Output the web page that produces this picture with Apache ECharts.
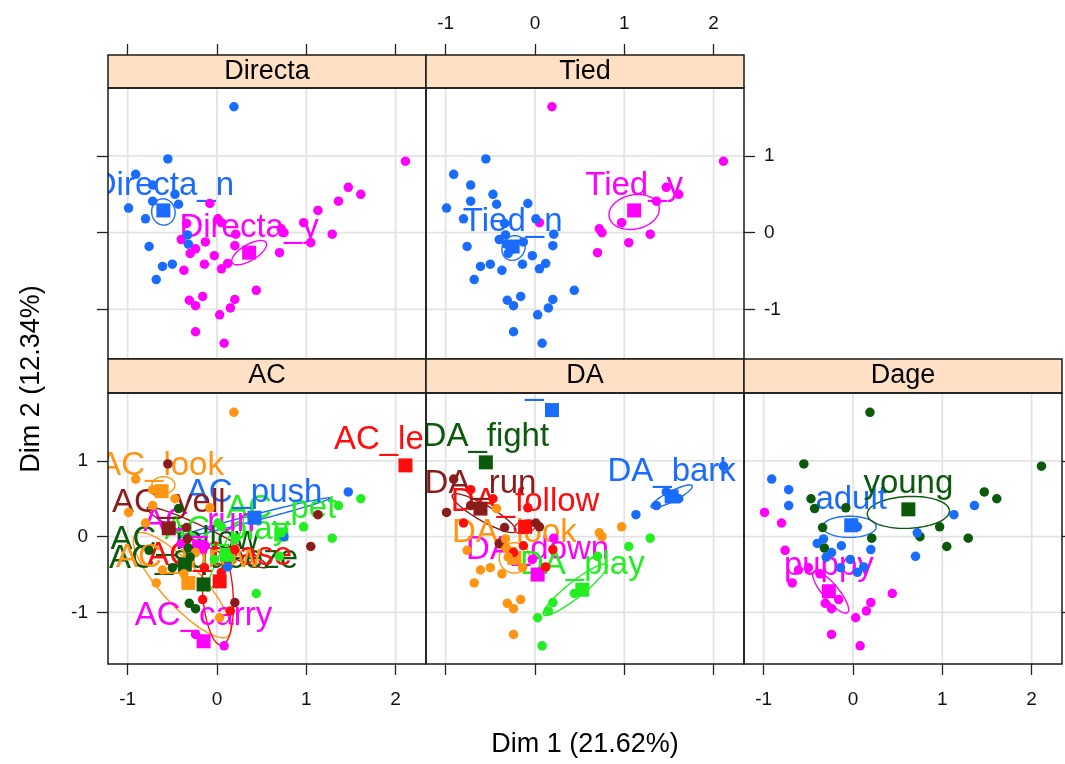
<!DOCTYPE html>
<html><head><meta charset="utf-8">
<script src="https://cdn.jsdelivr.net/npm/echarts@6/dist/echarts.min.js"></script>
<style>html,body{margin:0;padding:0;background:#fff}#c{width:1065px;height:764px}</style>
</head><body><div id="c"></div>
<script>
const FONT = '"Liberation Sans", Arial, Helvetica, sans-serif';
const COL = {blue:'#1a6cff', magenta:'#ff00ff', dkgreen:'#0b5a0b', red:'#ff0d0d', orange:'#ff9512', green:'#22ee22', brown:'#8b1c1c'};

// tick labels
const xTicks = [-1, 0, 1, 2];
const yTicks = [-1, 0, 1];

// individuals (Dim 1, Dim 2)
const dim1 = [0.19,-0.55,-0.91,-0.72,-0.47,-0.72,-0.43,-0.08,-0.99,-0.80, 0.05,0.01,0.21,0.20,-0.76,-0.40,-0.32,-0.24,-0.30,-0.13,
  -0.14,-0.03,-0.33,-0.61,-0.50,-0.37,0.05,0.12,-0.68,0.44, -0.31,-0.16,-0.24,0.20,0.15,0.03,-0.24,0.08,2.11,1.47,
  1.61,1.36,1.13,0.97,0.75,1.29,1.05,0.70,-0.34,0.72];
const dim2 = [1.64,0.96,0.76,0.62,0.50,0.41,0.37,0.38,0.32,0.18, 0.13,0.18,-0.02,-0.17,-0.18,-0.09,-0.15,-0.21,-0.27,-0.12,
  -0.41,-0.30,-0.03,-0.44,-0.41,-0.49,-0.47,-0.40,-0.61,-0.75, -0.88,-0.83,-0.95,-0.87,-0.98,-1.07,-1.29,-1.44,0.93,0.59,
  0.50,0.41,0.29,0.13,0.00,-0.02,-0.13,-0.26,0.12,0.05];

// category membership of each individual
const indDirecta = [0,0,0,0,0,0,0,1,0,0, 1,1,1,1,0,1,0,1,1,1, 1,1,0,0,0,1,1,1,0,1, 1,1,1,1,1,1,1,1,1,1, 1,1,1,1,1,1,1,1,1,1];
const indTied    = [1,0,0,0,0,0,0,0,0,0, 1,0,0,0,0,0,0,0,0,0, 0,0,0,0,0,0,0,0,0,0, 0,0,0,0,0,0,0,0,1,1, 1,1,1,1,1,1,1,1,0,1];
const indDage    = [2,2,0,0,2,0,2,2,1,1, 0,0,2,0,1,0,2,0,0,0, 0,0,0,1,1,1,0,0,1,1, 1,1,1,1,1,1,1,1,2,2, 2,0,0,2,2,2,2,0,2,0];
const indAC      = [3,11,3,3,3,10,8,10,3,3, 4,5,5,9,1,7,1,10,8,7, 9,5,11,10,1,10,9,6,10,4, 8,9,8,11,9,10,0,0,2,6, 4,4,11,4,6,4,11,5,11,5];
const indDA      = [7,2,6,3,3,6,4,3,6,3, 6,6,1,3,4,6,4,3,4,3, 4,1,4,4,4,4,1,3,4,5, 4,4,4,5,5,5,4,5,0,0, 0,0,0,4,4,5,5,5,6,4];

// categories: names, colours, coordinates
const directaNames = ['Directa_n','Directa_y'];
const directaCol = ['blue','magenta'];
const directaX = [-0.60, 0.36];
const directaY = [0.29, -0.26];

const tiedNames = ['Tied_n','Tied_y'];
const tiedCol = ['blue','magenta'];
const tiedX = [-0.25, 1.11];
const tiedY = [-0.18, 0.29];

const dageNames = ['adult','puppy','young'];
const dageCol = ['blue','magenta','dkgreen'];
const dageX = [-0.02, -0.27, 0.62];
const dageY = [0.15, -0.72, 0.36];

const acNames = ['AC_carry','AC_follow','AC_leash','AC_look','AC_pet','AC_play','AC_push','AC_run','AC_squeeze','AC_tease','AC_throw','AC_yell'];
const acCol = ['magenta','dkgreen','red','orange','green','green','blue','magenta','dkgreen','red','orange','brown'];
const acX = [-0.15,-0.36,2.11,-0.62,0.72,0.11,0.42,-0.20,-0.15,0.03,-0.32,-0.54];
const acY = [-1.38,-0.37,0.94,0.60,0.03,-0.24,0.25,-0.13,-0.63,-0.59,-0.61,0.11];

const daNames = ['DA_bark','DA_down','DA_fight','DA_follow','DA_look','DA_play','DA_run','DA_stand'];
const daCol = ['blue','magenta','dkgreen','red','orange','green','brown','blue'];
const daX = [1.53,0.03,-0.55,-0.11,-0.23,0.53,-0.61,0.19];
const daY = [0.53,-0.50,0.98,0.13,-0.28,-0.70,0.37,1.67];

// confidence ellipses: centre, major semi-axis vector, minor semi-axis vector, colour
const ellDirecta = [[-0.60,0.27,0.13,0.02,-0.02,0.17,'blue'],[0.36,-0.26,0.19,0.13,0.044,-0.09,'magenta']];
const ellTied = [[-0.24,-0.20,0.12,0.08,-0.05,0.14,'blue'],[1.11,0.27,0.28,0.06,-0.03,0.22,'magenta']];
const ellDage = [[-0.04,0.13,0.30,0.0,0.0,0.14,'blue'],[0.62,0.32,0.46,0.02,0.0,0.21,'dkgreen'],[-0.25,-0.73,0.19,-0.27,0.068,0.067,'magenta']];
const ellAC = [[-0.39,-0.64,0.52,-0.67,0.17,0.18,'orange'],[0.01,-0.75,-0.04,0.68,0.17,0.01,'red'],[-0.11,-0.01,0.67,-0.39,0.05,0.09,'brown'],
  [0.42,0.25,0.85,0.26,0.01,-0.04,'blue'],[-0.60,0.68,0.13,0,0,0.11,'orange'],[0.09,-0.24,0.2,0.48,0.05,-0.03,'green']];
const ellDA = [[-0.57,0.31,0.354,-0.24,-0.045,-0.09,'brown'],[1.53,0.53,0.23,0.14,0.025,-0.06,'blue'],[0.45,-0.70,0.354,0.33,0.055,-0.083,'green'],
  [-0.23,-0.28,0.17,0,0,0.2,'orange'],[-0.11,0.13,0.12,0.04,-0.02,0.08,'red']];

const panels = [
  {title:'Directa', left:108, top:88, ind:indDirecta, names:directaNames, col:directaCol, cx:directaX, cy:directaY, ell:ellDirecta,
   xPos:'top', xOff:33, xTick:true, xLab:false, yShow:true, yPos:'left', yLab:false, ymin:-1.645, ymax:1.884},
  {title:'Tied', left:426, top:88, ind:indTied, names:tiedNames, col:tiedCol, cx:tiedX, cy:tiedY, ell:ellTied,
   xPos:'top', xOff:33, xTick:true, xLab:true, yShow:true, yPos:'right', yLab:true, ymin:-1.645, ymax:1.884},
  {title:'AC', left:108, top:393, ind:indAC, names:acNames, col:acCol, cx:acX, cy:acY, ell:ellAC,
   xPos:'bottom', xOff:0, xTick:true, xLab:true, yShow:true, yPos:'left', yLab:true, ymin:-1.68, ymax:1.895},
  {title:'DA', left:426, top:393, ind:indDA, names:daNames, col:daCol, cx:daX, cy:daY, ell:ellDA,
   xPos:'bottom', xOff:0, xTick:true, xLab:false, yShow:false, yPos:'left', yLab:false, ymin:-1.68, ymax:1.895},
  {title:'Dage', left:744, top:393, ind:indDage, names:dageNames, col:dageCol, cx:dageX, cy:dageY, ell:ellDage,
   xPos:'bottom', xOff:0, xTick:true, xLab:true, yShow:true, yPos:'right', yLab:false, ymin:-1.68, ymax:1.895}
];
const PW = 318, PH = 271;

const grids = [], xAxes = [], yAxes = [], series = [], graphics = [];
panels.forEach((p, gi) => {
  grids.push({left:p.left, top:p.top, width:PW, height:PH, outerBoundsMode:'none', containLabel:false});
  xAxes.push({gridIndex:gi, type:'value', min:-1.22, max:2.34, position:p.xPos, offset:p.xOff,
    axisLine:{show:false, onZero:false}, splitLine:{show:false},
    axisTick:{show:p.xTick, length:11, customValues:xTicks, lineStyle:{color:'#222', width:1.3}},
    axisLabel:{show:p.xLab, customValues:xTicks, fontSize:19, color:'#111', fontFamily:FONT, margin:p.xPos==='top'?22:26}});
  yAxes.push({gridIndex:gi, type:'value', min:p.ymin, max:p.ymax, position:p.yPos, show:p.yShow,
    axisLine:{show:false, onZero:false}, splitLine:{show:false},
    axisTick:{show:true, length:11, customValues:yTicks, lineStyle:{color:'#222', width:1.3}},
    axisLabel:{show:p.yLab, customValues:yTicks, fontSize:19, color:'#111', fontFamily:FONT, margin:20}});

  // grid lines
  series.push({type:'custom', xAxisIndex:gi, yAxisIndex:gi, silent:true, z:1, clip:true,
    data: xTicks.map(v=>[0,v]).concat(yTicks.map(v=>[1,v])),
    renderItem(params, api){
      const cs = params.coordSys, o = api.value(0), v = api.value(1);
      if (o === 0) { const q = api.coord([v, 0]);
        return {type:'line', shape:{x1:q[0], y1:cs.y, x2:q[0], y2:cs.y+cs.height}, style:{stroke:'#e3e3e3', lineWidth:1.8}}; }
      const q = api.coord([0, v]);
      return {type:'line', shape:{x1:cs.x, y1:q[1], x2:cs.x+cs.width, y2:q[1]}, style:{stroke:'#e3e3e3', lineWidth:1.8}};
    }});

  // ellipses
  series.push({type:'custom', xAxisIndex:gi, yAxisIndex:gi, silent:true, z:2, clip:true,
    data: p.ell.map(e => e.slice(0,6)),
    renderItem(params, api){
      const e = p.ell[params.dataIndex];
      const c = [api.value(0), api.value(1)], u = [api.value(2), api.value(3)], w = [api.value(4), api.value(5)];
      const pts = [];
      for (let k = 0; k <= 90; k++) { const t = k/90*2*Math.PI;
        pts.push(api.coord([c[0]+u[0]*Math.cos(t)+w[0]*Math.sin(t), c[1]+u[1]*Math.cos(t)+w[1]*Math.sin(t)])); }
      return {type:'polyline', shape:{points:pts}, style:{fill:null, stroke:COL[e[6]], lineWidth:1.4}};
    }});

  // category labels
  series.push({type:'custom', xAxisIndex:gi, yAxisIndex:gi, silent:true, z:3, clip:true,
    data: p.cx.map((x,k)=>[x, p.cy[k]]),
    renderItem(params, api){
      const q = api.coord([api.value(0), api.value(1)]);
      const k = params.dataIndex;
      return {type:'text', x:q[0], y:q[1]-25, style:{text:p.names[k], fill:COL[p.col[k]], fontSize:33, fontFamily:FONT, align:'center', verticalAlign:'middle'}};
    }});

  // category points (squares)
  series.push({type:'scatter', xAxisIndex:gi, yAxisIndex:gi, silent:true, z:4, symbol:'rect', symbolSize:14,
    data: p.cx.map((x,k)=>({value:[x, p.cy[k]], itemStyle:{color:COL[p.col[k]], opacity:1}}))});

  // individuals
  series.push({type:'scatter', xAxisIndex:gi, yAxisIndex:gi, silent:true, z:5, symbol:'circle', symbolSize:9.5,
    data: dim1.map((x,i)=>({value:[x, dim2[i]], itemStyle:{color:COL[p.col[p.ind[i]]], opacity:1}}))});

  // strip
  const sh = p.top === 88 ? 33 : 34;
  graphics.push({type:'rect', z:50, shape:{x:p.left, y:p.top-sh, width:PW, height:sh}, style:{fill:'#ffe0c4', stroke:'#1a1a1a', lineWidth:1.5}});
  graphics.push({type:'text', z:51, x:p.left+PW/2, y:p.top-sh/2, style:{text:p.title, fill:'#000', fontSize:27, fontFamily:FONT, align:'center', verticalAlign:'middle'}});
  // panel border
  graphics.push({type:'rect', z:50, shape:{x:p.left, y:p.top, width:PW, height:PH}, style:{fill:null, stroke:'#1a1a1a', lineWidth:1.5}});
});

graphics.push({type:'text', z:51, x:585, y:745, style:{text:'Dim 1 (21.62%)', fill:'#000', fontSize:27, fontFamily:FONT, align:'center', verticalAlign:'middle'}});
graphics.push({type:'text', z:51, x:32, y:379, rotation:Math.PI/2, style:{text:'Dim 2 (12.34%)', fill:'#000', fontSize:27, fontFamily:FONT, align:'center', verticalAlign:'middle'}});

const chart = echarts.init(document.getElementById('c'), null, {renderer:'canvas'});
chart.setOption({animation:false, backgroundColor:'#fff', grid:grids, xAxis:xAxes, yAxis:yAxes, series:series, graphic:{elements:graphics}});
</script></body></html>
